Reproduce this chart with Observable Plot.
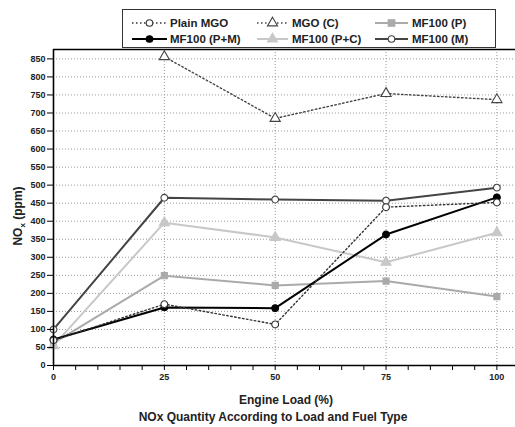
<!DOCTYPE html>
<html><head><meta charset="utf-8">
<script src="https://cdn.jsdelivr.net/npm/d3@7"></script>
<script src="https://cdn.jsdelivr.net/npm/@observablehq/plot@0.6"></script>
<style>
body{margin:0;background:#fff;font-family:"Liberation Sans",Arial,sans-serif;}
#wrap{position:relative;width:515px;height:427px;overflow:hidden;}
#legend{position:absolute;left:122px;top:9px;}
#caption{position:absolute;left:0;top:410px;width:546px;text-align:center;font-weight:bold;font-size:12px;color:#222;}
</style></head>
<body><div id="wrap"><div id="chart"></div><svg id="legend" width="375" height="40"></svg><div id="caption">NOx Quantity According to Load and Fuel Type</div></div>
<script>
const loads = [0, 25, 50, 75, 100];
const seriesNames = ["Plain MGO", "MGO (C)", "MF100 (P)", "MF100 (P+M)", "MF100 (P+C)", "MF100 (M)"];
const plainMGO = [70, 170, 114, 439, 452];
const mgoC = [null, 856, 685, 754, 737];
const mf100P = [62, 249, 222, 234, 191];
const mf100PM = [72, 161, 159, 363, 466];
const mf100PC = [55, 396, 355, 286, 368];
const mf100M = [100, 465, 460, 457, 493];
const yTicks = d3.range(0, 851, 50);
const xTicks = [0, 25, 50, 75, 100];

const styles = {
  "Plain MGO": {stroke:"#333", dash:"1.5,2.5", width:1.4, symbol:"circle", fill:"white", mstroke:"#333"},
  "MGO (C)": {stroke:"#444", dash:"1.5,2.5", width:1.4, symbol:"triangle", fill:"white", mstroke:"#444"},
  "MF100 (P)": {stroke:"#aaa", dash:null, width:2, symbol:"square", fill:"#aaa", mstroke:"#aaa"},
  "MF100 (P+M)": {stroke:"#000", dash:null, width:2, symbol:"circle", fill:"#000", mstroke:"#000"},
  "MF100 (P+C)": {stroke:"#c8c8c8", dash:null, width:2, symbol:"triangle", fill:"#c8c8c8", mstroke:"#c8c8c8"},
  "MF100 (M)": {stroke:"#444", dash:null, width:2, symbol:"circle", fill:"white", mstroke:"#444"}
};
const valuesBy = {"Plain MGO":plainMGO, "MGO (C)":mgoC, "MF100 (P)":mf100P, "MF100 (P+M)":mf100PM, "MF100 (P+C)":mf100PC, "MF100 (M)":mf100M};
const drawOrder = ["MF100 (P)", "MF100 (P+C)", "MF100 (M)", "MF100 (P+M)", "MGO (C)", "Plain MGO"];

const marks = [
  Plot.gridY(yTicks.filter(d => d > 0), {stroke:"#999", strokeOpacity:1, strokeDasharray:"1,2", strokeWidth:1}),
  Plot.gridX(xTicks.filter(d => d > 0), {stroke:"#999", strokeOpacity:1, strokeDasharray:"1,2", strokeWidth:1}),
];
for (const name of drawOrder) {
  const s = styles[name];
  const data = loads.map((x, i) => ({x, y: valuesBy[name][i]})).filter(d => d.y != null);
  marks.push(Plot.line(data, {x:"x", y:"y", stroke:s.stroke, strokeWidth:s.width, strokeDasharray:s.dash}));
  marks.push(Plot.dot(data, {x:"x", y:"y", symbol:()=>s.symbol, r: s.symbol==="triangle"?3.8:3.4, fill:s.fill, stroke:s.mstroke, strokeWidth:1.1}));
}
marks.push(
  Plot.ruleY([0], {stroke:"#000", strokeWidth:1.6}),
  Plot.ruleY([876], {stroke:"#000", strokeWidth:1.6}),
  Plot.ruleX([0], {stroke:"#000", strokeWidth:1.6}),
  Plot.axisY({ticks:yTicks, tickSize:6, tickPadding:2, label:null, fontSize:9, fontWeight:"bold", stroke:"#000"}),
  Plot.axisX({ticks:d3.range(0, 101, 5), tickFormat:d => d % 25 === 0 ? d : "", tickSize:5, tickPadding:3, label:null, fontSize:9, fontWeight:"bold", stroke:"#000"})
);

const chart = Plot.plot({
  width:515, height:408,
  marginLeft:53, marginRight:0, marginTop:49, marginBottom:43,
  x:{domain:[0, 104.2]},
  y:{domain:[0, 876]},
  style:{fontFamily:"Liberation Sans, Arial, sans-serif", color:"#222", background:"white"},
  marks
});
document.getElementById("chart").appendChild(chart);

const svg = d3.select(chart);
svg.append("text").attr("x", 286).attr("y", 404).attr("text-anchor","middle")
  .attr("font-size", 12).attr("font-weight","bold").attr("fill","#222").text("Engine Load (%)");
const yl = svg.append("text").attr("transform","translate(22,216) rotate(-90)").attr("text-anchor","middle")
  .attr("font-size", 12).attr("font-weight","bold").attr("fill","#222");
yl.append("tspan").text("NO");
yl.append("tspan").attr("font-size", 8).attr("dy", 3).text("x");
yl.append("tspan").attr("dy", -3).text(" (ppm)");

// legend
const lg = d3.select("#legend");
lg.append("rect").attr("x",0.5).attr("y",0.5).attr("width",373).attr("height",38).attr("fill","white").attr("stroke","#333").attr("stroke-width",1);
const cols = [[10, 45, 48], [135, 166, 170], [253, 286, 290]];
const rowsY = [14, 30];
seriesNames.forEach((name, i) => {
  const s = styles[name];
  const c = cols[i % 3], y = rowsY[Math.floor(i / 3)];
  lg.append("line").attr("x1", c[0]).attr("x2", c[1]).attr("y1", y).attr("y2", y)
    .attr("stroke", s.stroke).attr("stroke-width", s.width).attr("stroke-dasharray", s.dash);
  const sym = {circle:d3.symbolCircle, triangle:d3.symbolTriangle, square:d3.symbolSquare}[s.symbol];
  lg.append("path").attr("d", d3.symbol(sym, s.symbol==="circle"?34:44)()).attr("transform", `translate(${(c[0]+c[1])/2},${y})`)
    .attr("fill", s.fill).attr("stroke", s.mstroke).attr("stroke-width", 1.1);
  lg.append("text").attr("x", c[2]).attr("y", y + 4).attr("font-size", 11.5).attr("font-weight","bold").attr("fill","#222").text(name);
});
</script></body></html>
